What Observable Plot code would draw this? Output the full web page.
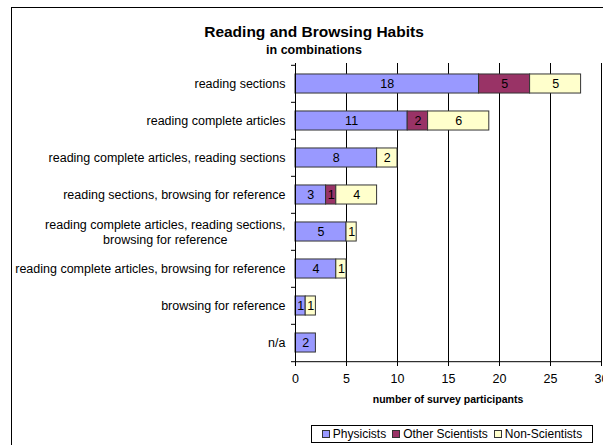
<!DOCTYPE html>
<html>
<head>
<meta charset="utf-8">
<script src="https://cdn.jsdelivr.net/npm/d3@7"></script>
<script src="https://cdn.jsdelivr.net/npm/@observablehq/plot@0.6"></script>
<style>
  html, body { margin: 0; padding: 0; background: #fff; }
  #chart { position: relative; width: 603px; height: 445px; overflow: hidden; font-family: "Liberation Sans", Arial, sans-serif; color: #000; }
  #frame { position: absolute; left: 11px; top: 7px; width: 620px; height: 460px; border: 1px solid #000; box-sizing: border-box; }
  #title { position: absolute; left: 114px; width: 400px; top: 23px; text-align: center; font-weight: bold; font-size: 15.5px; line-height: 18px; }
  #subtitle { position: absolute; left: 114px; width: 400px; top: 42.5px; text-align: center; font-weight: bold; font-size: 12.5px; line-height: 15px; }
  #xtitle { position: absolute; left: 298px; width: 300px; top: 393px; text-align: center; font-weight: bold; font-size: 10.5px; line-height: 13px; }
  #plot { position: absolute; left: 0; top: 0; }
  #legend { position: absolute; left: 311px; top: 425px; width: 282px; height: 18px; border: 1px solid #000; box-sizing: border-box; background: #fff; display: flex; align-items: center; justify-content: center; gap: 6px; font-size: 12px; }
  .item { display: flex; align-items: center; gap: 3px; white-space: nowrap; }
  .sw { width: 6px; height: 6px; border: 1px solid #333; display: inline-block; }
</style>
</head>
<body>
<div id="chart">
  <div id="frame"></div>
  <div id="plot"></div>
  <div id="title">Reading and Browsing Habits</div>
  <div id="subtitle">in combinations</div>
  <div id="xtitle">number of survey participants</div>
  <div id="legend"></div>
</div>
<script>
const categories = [
  "reading sections",
  "reading complete articles",
  "reading complete articles, reading sections",
  "reading sections, browsing for reference",
  "reading complete articles, reading sections,\nbrowsing for reference",
  "reading complete articles, browsing for reference",
  "browsing for reference",
  "n/a"
];
const groups = ["Physicists", "Other Scientists", "Non-Scientists"];
const colors = ["#9999FF", "#993366", "#FFFFCC"];
const physicists      = [18, 11, 8, 3, 5, 4, 1, 2];
const otherScientists = [5, 2, 0, 1, 0, 0, 0, 0];
const nonScientists   = [5, 6, 2, 4, 1, 1, 1, 0];
const xTicks = [0, 5, 10, 15, 20, 25, 30];

const series = [physicists, otherScientists, nonScientists];
const data = [];
groups.forEach((g, gi) => {
  categories.forEach((c, ci) => {
    const v = series[gi][ci];
    if (v > 0) data.push({category: c, group: g, value: v});
  });
});

const width = 603, height = 400;
const marginTop = 63, marginBottom = 38, marginLeft = 295, marginRight = 2;
const bw = (height - marginTop - marginBottom) / categories.length;
const inset = bw * 0.24;

const fs = 12.5;
const font = fs + "px 'Liberation Sans', Arial, sans-serif";
const ctx = document.createElement("canvas").getContext("2d");
ctx.font = font;
const single = categories.filter(c => !c.includes("\n"));
const multi = categories.filter(c => c.includes("\n"));
const labelGap = 10;

const marks = [
  Plot.gridX(xTicks.filter(t => t > 0), {stroke: "#000", strokeOpacity: 1, strokeWidth: 1}),
  Plot.barX(data, Plot.stackX({
    x: "value", y: "category", fill: "group", order: groups,
    stroke: "#333", strokeWidth: 1, insetTop: inset, insetBottom: inset
  })),
  Plot.text(data, Plot.stackX({
    x: "value", y: "category", z: "group", order: groups, text: "value",
    fill: "#000", fontSize: fs
  })),
  Plot.ruleX([0], {stroke: "#000", strokeWidth: 1}),
  Plot.ruleY([categories[categories.length - 1]], {stroke: "#000", strokeWidth: 1, dy: bw / 2}),
  Plot.axisY({tickSize: 4, tickFormat: () => "", dy: -bw / 2, stroke: "#000", label: null}),
  Plot.axisY([categories[categories.length - 1]], {tickSize: 4, tickFormat: () => "", dy: bw / 2, stroke: "#000", label: null}),
  Plot.axisX({ticks: xTicks, tickSize: 4, tickPadding: 8, fontSize: fs, label: null, fill: "#000"}),
  Plot.text(single, {y: d => d, x: 0, text: d => d, textAnchor: "end", dx: -labelGap, fontSize: fs, fill: "#000"}),
  ...multi.map(c => {
    const w = ctx.measureText(c.split("\n")[0]).width;
    return Plot.text([c], {y: d => d, x: 0, text: d => d, textAnchor: "middle", dx: -(labelGap + w / 2), fontSize: fs, lineHeight: 1.15, fill: "#000"});
  })
];

const chart = Plot.plot({
  width, height, marginTop, marginBottom, marginLeft, marginRight,
  style: {fontFamily: "'Liberation Sans', Arial, sans-serif", fontSize: fs + "px", background: "transparent", color: "#000"},
  x: {domain: [0, 30], axis: null},
  y: {domain: categories, padding: 0, axis: null},
  color: {domain: groups, range: colors},
  marks
});
document.getElementById("plot").appendChild(chart);

const legend = document.getElementById("legend");
groups.forEach((g, i) => {
  const item = document.createElement("span");
  item.className = "item";
  const sw = document.createElement("span");
  sw.className = "sw";
  sw.style.background = colors[i];
  item.appendChild(sw);
  item.appendChild(document.createTextNode(g));
  legend.appendChild(item);
});
</script>
</body>
</html>
